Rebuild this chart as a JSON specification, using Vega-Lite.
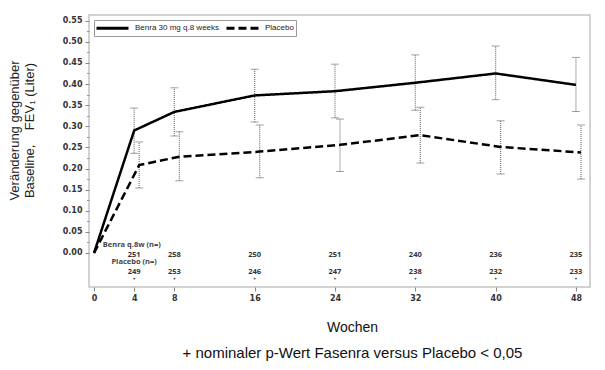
{
  "$schema": "https://vega.github.io/schema/vega-lite/v6.json",
  "width": 501,
  "height": 272,
  "autosize": {"type": "none"},
  "padding": {"left": 89, "top": 15, "right": 15, "bottom": 83},
  "background": "white",
  "config": {
    "view": {"stroke": "#c4c4c4", "strokeWidth": 1.5},
    "font": "Liberation Sans",
    "legend": {
      "orient": "none",
      "legendX": 5,
      "legendY": 5,
      "direction": "horizontal",
      "strokeColor": "#999999",
      "padding": 1.5,
      "symbolType": "M0,0H6.4",
      "symbolSize": 100,
      "symbolOffset": -5.5,
      "symbolStrokeWidth": 3,
      "symbolStrokeColor": "black",
      "labelOffset": 32,
      "columnPadding": 1,
      "labelFontSize": 8,
      "labelFont": "Liberation Sans",
      "labelColor": "#222222",
      "title": null
    }
  },
  "datasets": {
    "fev": [
      {"group": "Benra 30 mg q.8 weeks", "week": 0, "val": 0.0, "lo": 0.0, "hi": 0.0},
      {"group": "Benra 30 mg q.8 weeks", "week": 4, "val": 0.290, "lo": 0.236, "hi": 0.343},
      {"group": "Benra 30 mg q.8 weeks", "week": 8, "val": 0.334, "lo": 0.277, "hi": 0.391},
      {"group": "Benra 30 mg q.8 weeks", "week": 16, "val": 0.373, "lo": 0.310, "hi": 0.435},
      {"group": "Benra 30 mg q.8 weeks", "week": 24, "val": 0.383, "lo": 0.320, "hi": 0.447},
      {"group": "Benra 30 mg q.8 weeks", "week": 32, "val": 0.403, "lo": 0.338, "hi": 0.469},
      {"group": "Benra 30 mg q.8 weeks", "week": 40, "val": 0.425, "lo": 0.363, "hi": 0.490},
      {"group": "Benra 30 mg q.8 weeks", "week": 48, "val": 0.398, "lo": 0.335, "hi": 0.463},
      {"group": "Placebo", "week": 0, "val": 0.0, "lo": 0.0, "hi": 0.0},
      {"group": "Placebo", "week": 4, "val": 0.208, "lo": 0.154, "hi": 0.263},
      {"group": "Placebo", "week": 8, "val": 0.228, "lo": 0.171, "hi": 0.287},
      {"group": "Placebo", "week": 16, "val": 0.240, "lo": 0.178, "hi": 0.303},
      {"group": "Placebo", "week": 24, "val": 0.256, "lo": 0.193, "hi": 0.317},
      {"group": "Placebo", "week": 32, "val": 0.279, "lo": 0.213, "hi": 0.345},
      {"group": "Placebo", "week": 40, "val": 0.251, "lo": 0.187, "hi": 0.313},
      {"group": "Placebo", "week": 48, "val": 0.238, "lo": 0.175, "hi": 0.303}
    ],
    "ntab": [
      {"week": 4, "benra": 251, "placebo": 249, "sig": "+"},
      {"week": 8, "benra": 258, "placebo": 253, "sig": "+"},
      {"week": 16, "benra": 250, "placebo": 246, "sig": "+"},
      {"week": 24, "benra": 251, "placebo": 247, "sig": "+"},
      {"week": 32, "benra": 240, "placebo": 238, "sig": "+"},
      {"week": 40, "benra": 236, "placebo": 232, "sig": "+"},
      {"week": 48, "benra": 235, "placebo": 233, "sig": "+"}
    ]
  },
  "title": {
    "text": "+ nominaler p-Wert Fasenra versus Placebo < 0,05",
    "orient": "bottom",
    "anchor": "middle",
    "dx": 13,
    "offset": 12,
    "fontSize": 15,
    "fontWeight": "normal",
    "font": "Liberation Sans",
    "color": "#111111"
  },
  "resolve": {"axis": {"y": "independent"}},
  "layer": [
    {
      "data": {"name": "fev"},
      "transform": [
        {"filter": "datum.week > 0"},
        {"calculate": "datum.group === 'Placebo' && datum.week > 0 ? datum.week + 0.5 : datum.week", "as": "xw"}
      ],
      "mark": {
        "type": "errorbar",
        "ticks": {"size": 8, "color": "#777777", "strokeWidth": 1},
        "rule": {"strokeDash": [1, 1], "color": "#777777", "strokeWidth": 1.2}
      },
      "encoding": {
        "x": {
          "field": "xw", "type": "quantitative",
          "scale": {"domain": [-0.5, 49.4], "nice": false, "zero": false},
          "axis": {
            "values": [0, 4, 8, 16, 24, 32, 40, 48],
            "domain": false, "grid": false,
            "tickSize": 4, "tickColor": "#888888",
            "labelFont": "DejaVu Sans", "labelFontWeight": "bold", "labelFontSize": 8, "labelColor": "#333333",
            "labelPadding": 3,
            "title": "Wochen",
            "titleFont": "Liberation Sans", "titleFontWeight": "normal", "titleFontSize": 14, "titleColor": "#111111",
            "titleX": 263, "titleAlign": "center", "titlePadding": 18
          }
        },
        "y": {
          "field": "lo", "type": "quantitative",
          "scale": {"domain": [-0.0805, 0.5634], "nice": false, "zero": false},
          "axis": {
            "orient": "left",
            "values": [0, 0.05, 0.1, 0.15, 0.2, 0.25, 0.3, 0.35, 0.4, 0.45, 0.5, 0.55],
            "format": ".2f",
            "domain": false, "grid": false,
            "tickSize": 4, "tickColor": "#888888",
            "labelFont": "DejaVu Sans", "labelFontWeight": "bold", "labelFontSize": 8, "labelColor": "#333333",
            "labelPadding": 3,
            "title": ["Veränderung gegenüber", "Baseline,\u00a0\u00a0\u00a0 FEV₁ (Liter)"],
            "titleFont": "Liberation Sans", "titleFontWeight": "normal", "titleFontSize": 13, "titleColor": "#222222",
            "titleLineHeight": 15,
            "titleAngle": -90, "titleAlign": "center", "titleBaseline": "middle",
            "titleX": -75, "titleY": 115
          }
        },
        "y2": {"field": "hi"}
      }
    },
    {
      "data": {"name": "fev"},
      "transform": [
        {"calculate": "datum.group === 'Placebo' && datum.week > 0 ? datum.week + 0.5 : datum.week", "as": "xw"}
      ],
      "mark": {"type": "line", "color": "black", "strokeWidth": 2.5},
      "encoding": {
        "x": {"field": "xw", "type": "quantitative", "scale": {"domain": [-0.5, 49.4], "nice": false, "zero": false}},
        "y": {
          "field": "val", "type": "quantitative",
          "scale": {"domain": [-0.0805, 0.5634], "nice": false, "zero": false},
          "axis": {
            "orient": "left",
            "values": [0.025, 0.075, 0.125, 0.175, 0.225, 0.275, 0.325, 0.375, 0.425, 0.475, 0.525],
            "labels": false, "domain": false, "grid": false,
            "tickSize": 2.5, "tickColor": "#999999", "title": null
          }
        },
        "strokeDash": {
          "field": "group", "type": "nominal",
          "scale": {"domain": ["Benra 30 mg q.8 weeks", "Placebo"], "range": [[1, 0], [8, 4]]}
        }
      }
    },
    {
      "data": {"name": "ntab"},
      "mark": {"type": "text", "font": "Open Sans", "fontWeight": "bold", "fontSize": 7.5, "color": "#333333", "baseline": "middle"},
      "encoding": {
        "x": {"field": "week", "type": "quantitative", "scale": {"domain": [-0.5, 49.4], "nice": false, "zero": false}},
        "y": {"datum": -0.005, "type": "quantitative", "scale": {"domain": [-0.0805, 0.5634], "nice": false, "zero": false}, "axis": null},
        "text": {"field": "benra"}
      }
    },
    {
      "data": {"name": "ntab"},
      "mark": {"type": "text", "font": "Open Sans", "fontWeight": "bold", "fontSize": 7.5, "color": "#333333", "baseline": "middle"},
      "encoding": {
        "x": {"field": "week", "type": "quantitative", "scale": {"domain": [-0.5, 49.4], "nice": false, "zero": false}},
        "y": {"datum": -0.044, "type": "quantitative", "scale": {"domain": [-0.0805, 0.5634], "nice": false, "zero": false}, "axis": null},
        "text": {"field": "placebo"}
      }
    },
    {
      "data": {"name": "ntab"},
      "mark": {"type": "text", "font": "Open Sans", "fontWeight": "bold", "fontSize": 5, "color": "#333333", "baseline": "middle"},
      "encoding": {
        "x": {"field": "week", "type": "quantitative", "scale": {"domain": [-0.5, 49.4], "nice": false, "zero": false}},
        "y": {"datum": -0.061, "type": "quantitative", "scale": {"domain": [-0.0805, 0.5634], "nice": false, "zero": false}, "axis": null},
        "text": {"field": "sig"}
      }
    },
    {
      "data": {"values": [{"label": "Benra q.8w (n=)"}]},
      "mark": {"type": "text", "font": "Open Sans", "fontWeight": "bold", "fontSize": 7.5, "color": "#444444", "baseline": "middle", "align": "left"},
      "encoding": {
        "x": {"datum": 0.87, "type": "quantitative", "scale": {"domain": [-0.5, 49.4], "nice": false, "zero": false}},
        "y": {"datum": 0.019, "type": "quantitative", "scale": {"domain": [-0.0805, 0.5634], "nice": false, "zero": false}, "axis": null},
        "text": {"field": "label"}
      }
    },
    {
      "data": {"values": [{"label": "Placebo (n=)"}]},
      "mark": {"type": "text", "font": "Open Sans", "fontWeight": "bold", "fontSize": 7.5, "color": "#444444", "baseline": "middle", "align": "left"},
      "encoding": {
        "x": {"datum": 1.73, "type": "quantitative", "scale": {"domain": [-0.5, 49.4], "nice": false, "zero": false}},
        "y": {"datum": -0.021, "type": "quantitative", "scale": {"domain": [-0.0805, 0.5634], "nice": false, "zero": false}, "axis": null},
        "text": {"field": "label"}
      }
    }
  ]
}
